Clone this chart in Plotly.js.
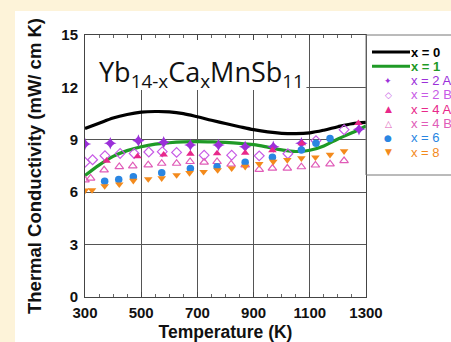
<!DOCTYPE html>
<html>
<head>
<meta charset="utf-8">
<script src="https://cdn.plot.ly/plotly-3.0.1.min.js"></script>
<style>
  html, body { margin:0; padding:0; background:#fdf3d9; width:451px; height:342px; overflow:hidden; }
  #chart { position:absolute; left:15px; top:11px; width:436px; height:331px; background:#fff; }
</style>
</head>
<body>
<div id="chart"></div>
<script>
// ---- data ----
const lineTemps = [300,350,400,450,500,550,600,650,700,750,800,850,900,950,1000,1050,1100,1150,1200,1250,1300];
const kappa_x0  = [9.65,9.95,10.25,10.45,10.58,10.62,10.6,10.5,10.32,10.12,9.93,9.75,9.58,9.45,9.37,9.35,9.4,9.55,9.75,9.92,10.0];
const kappa_x1  = [6.95,7.55,8.05,8.38,8.6,8.75,8.83,8.88,8.9,8.88,8.85,8.8,8.72,8.58,8.42,8.33,8.4,8.65,9.05,9.4,9.8];

const temps_2A = [300,390,490,580,675,775,870,970,1070,1275];
const kappa_2A = [8.76,8.8,8.95,8.85,8.7,8.7,8.6,8.6,8.8,9.6];

const temps_2B = [300,327,371,425,475,527,575,626,724,822,920,1022,1122,1222];
const kappa_2B = [7.71,7.86,8.09,8.22,8.22,8.3,8.32,8.28,8.12,8.12,8.08,8.2,8.95,9.58];

const temps_4A = [377,487,580,675,770,870,967,1072,1273];
const kappa_4A = [7.8,8.05,8.15,8.2,8.22,8.25,8.4,8.8,9.95];

const temps_4B = [300,320,368,422,470,525,573,626,674,724,770,820,870,920,967,1020,1070,1120,1172,1222];
const kappa_4B = [6.7,6.8,7.27,7.46,7.5,7.56,7.65,7.65,7.75,7.71,7.75,7.6,7.56,7.3,7.37,7.37,7.45,7.55,7.62,7.8];

const temps_6 = [370,420,472,573,675,770,870,967,1070,1122,1172];
const kappa_6 = [6.62,6.72,6.89,7.12,7.35,7.46,7.72,8.0,8.42,8.8,9.08];

const temps_8 = [300,325,370,422,472,525,573,626,672,722,772,822,870,920,970,1020,1070,1120,1172,1222];
const kappa_8 = [6.1,6.12,6.35,6.45,6.66,6.75,6.8,6.98,7.1,7.17,7.27,7.37,7.46,7.62,7.75,7.85,7.95,8.0,8.15,8.35];

const seriesNames = ['x = 0','x = 1','x = 2 A','x = 2 B','x = 4 A','x = 4 B','x = 6','x = 8'];
const xTickVals = [300,500,700,900,1100,1300];
const yTickVals = [0,3,6,9,12,15];

// ---- styling ----
const colors = {x0:'#000000', x1:'#1f9a26', a2:'#9b30d9', b2:'#c75ae6', a4:'#e8288a', b4:'#e05cb8', s6:'#2a86e2', s8:'#f38a1c'};
const baseFont = 'Liberation Sans, Arial, sans-serif';

const traces = [
  {x:lineTemps, y:kappa_x0, mode:'lines', line:{color:colors.x0, width:3.2, shape:'spline'}, name:seriesNames[0]},
  {x:lineTemps, y:kappa_x1, mode:'lines', line:{color:colors.x1, width:3.2, shape:'spline'}, name:seriesNames[1]},
  {x:temps_2A, y:kappa_2A, mode:'markers', marker:{symbol:'star-diamond', size:9, color:colors.a2}, name:seriesNames[2]},
  {x:temps_2B, y:kappa_2B, mode:'markers', marker:{symbol:'diamond-open', size:7.5, color:colors.b2, line:{width:1.2}}, name:seriesNames[3]},
  {x:temps_4A, y:kappa_4A, mode:'markers', marker:{symbol:'triangle-up', size:7.5, color:colors.a4}, name:seriesNames[4]},
  {x:temps_4B, y:kappa_4B, mode:'markers', marker:{symbol:'triangle-up-open', size:7.5, color:colors.b4, line:{width:1.2}}, name:seriesNames[5]},
  {x:temps_6, y:kappa_6, mode:'markers', marker:{symbol:'circle', size:7.5, color:colors.s6}, name:seriesNames[6]},
  {x:temps_8, y:kappa_8, mode:'markers', marker:{symbol:'triangle-down', size:7.5, color:colors.s8}, name:seriesNames[7]}
];

// plot-area geometry (px inside the div)
const W = 436, H = 331, ML = 70, MR = 85, MT = 24, MB = 45;
const PW = W - ML - MR, PH = H - MT - MB;
const px2paperX = px => (px - ML) / PW;
const py2paperY = py => (H - MB - py) / PH;

// custom legend
const legendColors = [colors.x0, colors.x1, colors.a2, colors.b2, colors.a4, colors.b4, colors.s6, colors.s8];
const legendGlyphs = [null, null, '\u2726', '\u25C7', '\u25B2', '\u25B3', '\u25CF', '\u25BC'];
const rowY0 = 41, rowStep = 14.3;
const shapes = [
  // white box behind the formula hides the grid there
  {type:'rect', xref:'x', yref:'y', x0:300, x1:1088, y0:11.85, y1:15, fillcolor:'#ffffff', line:{width:0}, layer:'between'},
  // legend frame
  {type:'rect', xref:'paper', yref:'paper', x0:1, x1:1.5, y0:py2paperY(164), y1:1, line:{color:'#777', width:1}, fillcolor:'rgba(0,0,0,0)'}
];
const annotations = [
  {xref:'paper', yref:'paper', x:0.413, y:py2paperY(63), xanchor:'center', yanchor:'middle', showarrow:false,
   text:'Yb<sub>14-x</sub>Ca<sub>x</sub>MnSb<sub>11</sub>', font:{family:'Open Sans, sans-serif', size:27, color:'#111'}}
];
seriesNames.forEach((nm, i) => {
  const yy = rowY0 + i * rowStep;
  if (legendGlyphs[i] === null) {
    shapes.push({type:'line', xref:'paper', yref:'paper', x0:px2paperX(357), x1:px2paperX(395), y0:py2paperY(yy), y1:py2paperY(yy), line:{color:legendColors[i], width:3}});
  } else {
    annotations.push({xref:'paper', yref:'paper', x:px2paperX(373), y:py2paperY(yy), xanchor:'center', yanchor:'middle', showarrow:false,
      text:legendGlyphs[i], font:{family:'DejaVu Sans, sans-serif', size:9, color:legendColors[i]}});
  }
  annotations.push({xref:'paper', yref:'paper', x:px2paperX(395), y:py2paperY(yy), xanchor:'left', yanchor:'middle', showarrow:false,
    text:nm, font:{family:baseFont, size:13, color:legendColors[i], weight:(i < 2 ? 'bold' : 'normal')}, borderpad:0});
});

const layout = {
  width: W, height: H,
  margin: {l:ML, r:MR, t:MT, b:MB, autoexpand:false},
  paper_bgcolor:'#ffffff', plot_bgcolor:'#ffffff',
  showlegend:false,
  font:{family:baseFont, color:'#111'},
  xaxis:{
    range:[300,1300], tickvals:xTickVals, ticks:'inside', ticklen:5, tickcolor:'#444',
    showgrid:true, gridcolor:'#555', gridwidth:1,
    showline:true, linecolor:'#444', linewidth:1, mirror:'ticks', zeroline:false,
    minor:{dtick:50, tick0:300, ticks:'inside', ticklen:3, tickcolor:'#666', showgrid:false},
    tickfont:{size:15, weight:'bold', color:'#111'}, ticklabelstandoff:2,
    title:{text:'Temperature (K)', font:{size:17.5, weight:'bold', color:'#111'}, standoff:5}
  },
  yaxis:{
    range:[0,15], tickvals:yTickVals, ticks:'', showgrid:true, gridcolor:'#555', gridwidth:1,
    showline:true, linecolor:'#444', linewidth:1, mirror:true, zeroline:false,
    tickfont:{size:15, weight:'bold', color:'#111'}, ticklabelstandoff:3,
    title:{text:'Thermal Conductivity (mW/ cm K)', font:{size:18.5, weight:'bold', color:'#111'}, standoff:14}
  },
  shapes: shapes,
  annotations: annotations
};

Plotly.newPlot('chart', traces, layout, {displayModeBar:false, staticPlot:true});
</script>
</body>
</html>
